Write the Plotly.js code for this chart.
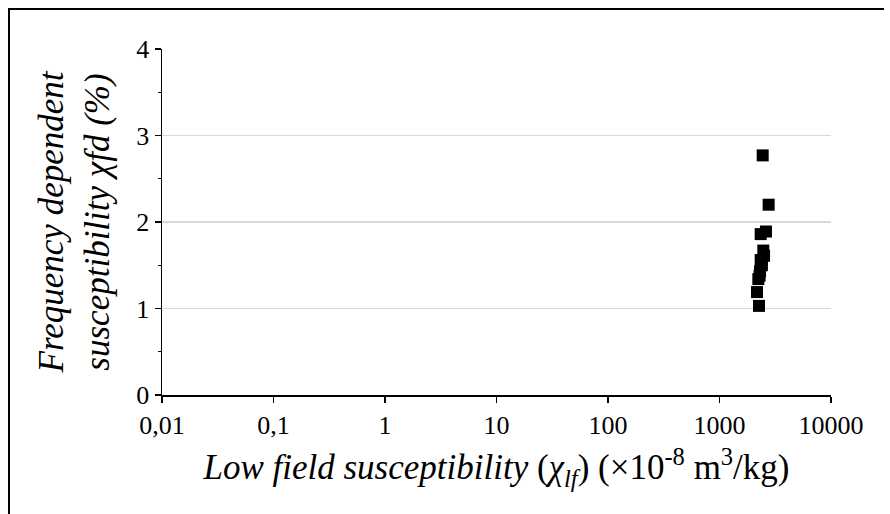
<!DOCTYPE html>
<html>
<head>
<meta charset="utf-8">
<script src="https://cdn.plot.ly/plotly-3.0.1.min.js"></script>
<style>
html,body{margin:0;padding:0;background:#fff;}
#wrap{position:relative;width:890px;height:514px;}
#chart{position:absolute;left:0;top:0;width:890px;height:514px;}
#frame{position:absolute;left:8px;top:8px;width:874px;height:520px;border-left:2px solid #000;border-top:2px solid #000;pointer-events:none;}
</style>
</head>
<body>
<div id="wrap"><div id="chart"></div><div id="frame"></div></div>
<script>
// Low field susceptibility (x10^-8 m3/kg)
const chiLf = [2440, 2760, 2610, 2340, 2470, 2510, 2340, 2400, 2310, 2230, 2170, 2260, 2380, 2290];
// Frequency dependent susceptibility (%)
const chiFd = [2.77, 2.20, 1.89, 1.86, 1.67, 1.61, 1.56, 1.50, 1.43, 1.34, 1.19, 1.03, 1.53, 1.38];
const xTickVals = [0.01, 0.1, 1, 10, 100, 1000, 10000];
const xTickText = ['0,01', '0,1', '1', '10', '100', '1000', '10000'];
const yTickVals = [0, 1, 2, 3, 4];

const serif = '"Liberation Serif", "Times New Roman", Times, serif';

const trace = {
  x: chiLf, y: chiFd, type: 'scatter', mode: 'markers',
  marker: {symbol: 'square', size: 12, color: '#000'},
  hoverinfo: 'skip'
};

const layout = {
  width: 890, height: 514,
  margin: {l: 162, r: 59, t: 49, b: 119},
  paper_bgcolor: '#fff', plot_bgcolor: '#fff',
  showlegend: false,
  font: {family: serif, color: '#000', size: 26},
  xaxis: {
    type: 'log', range: [-2, 4],
    tickvals: xTickVals, ticktext: xTickText,
    ticks: 'outside', ticklen: 6, tickwidth: 1.5, tickcolor: '#000',
    showline: true, linecolor: '#000', linewidth: 1.5,
    showgrid: false, zeroline: false,
    tickfont: {family: serif, size: 26, color: '#000'},
    title: {text: '<i>Low field susceptibility</i> (<i>χ<sub>lf</sub></i>) (×10<sup>-8</sup> m<sup>3</sup>/kg)',
            font: {family: serif, size: 35, color: '#000'}, standoff: 16}
  },
  yaxis: {
    range: [0, 4], tickvals: yTickVals,
    ticks: 'outside', ticklen: 6, tickwidth: 1.5, tickcolor: '#000',
    minor: {tickvals: [0.5, 1.5, 2.5, 3.5], ticks: 'outside', ticklen: 3, tickcolor: '#000', tickwidth: 1, showgrid: false},
    showline: true, linecolor: '#000', linewidth: 1.5,
    showgrid: true, gridcolor: '#d9d9d9', gridwidth: 1.2,
    zeroline: false,
    tickfont: {family: serif, size: 26, color: '#000'},
    title: {text: '<i>Frequency dependent</i><br><i>susceptibility χfd (%)</i>',
            font: {family: serif, size: 35, color: '#000'}, standoff: 16}
  }
};

Plotly.newPlot('chart', [trace], layout, {displayModeBar: false, staticPlot: true});
</script>
</body>
</html>
